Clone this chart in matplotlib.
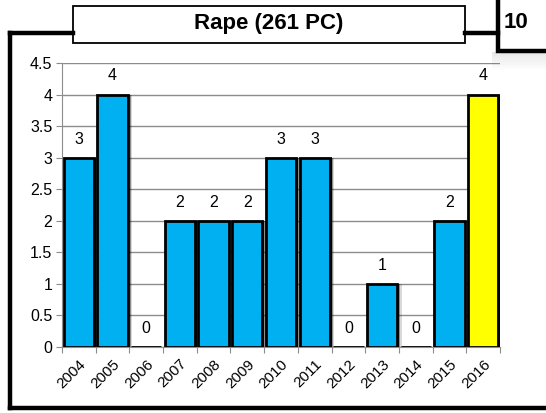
import matplotlib.pyplot as plt
from matplotlib.patches import Rectangle
from matplotlib.lines import Line2D

plt.rcParams['font.family'] = ['Liberation Sans', 'DejaVu Sans']

# Data
years = ["2004", "2005", "2006", "2007", "2008", "2009", "2010",
         "2011", "2012", "2013", "2014", "2015", "2016"]
cases = [3, 4, 0, 2, 2, 2, 3, 3, 0, 1, 0, 2, 4]
bar_colors = ["#00B0F0"] * 12 + ["#FFFF00"]

fig = plt.figure(figsize=(5.46, 4.13), dpi=100)
W, H = 546, 413


def fx(px):
    return px / W


def fy(py):
    return 1 - py / H


# outer frame (right edge lies outside the picture)
frame = [((10, 33), (10, 408)), ((10, 408), (560, 408)),
         ((10, 33), (73, 33)), ((465, 33), (498, 33))]
for (x0, y0), (x1, y1) in frame:
    fig.add_artist(Line2D([fx(x0), fx(x1)], [fy(y0), fy(y1)],
                          color="black", lw=3.2, solid_capstyle="projecting"))

# shadow under top-right box
for i in range(8):
    fig.add_artist(Rectangle((fx(492), fy(54 + i * 2.2)), fx(70), 2.2 / H,
                             facecolor="black", alpha=0.09 * (1 - i / 8),
                             edgecolor="none"))

# top-right box (clipped)
fig.add_artist(Rectangle((fx(498), fy(51)), fx(70), 60 / H,
                         facecolor="white", edgecolor="black", lw=3.2))
fig.text(fx(504), fy(22), "10", fontsize=16, fontweight="bold",
         ha="left", va="center")

# title box
fig.add_artist(Rectangle((fx(73), fy(43)), fx(392), 37 / H,
                         facecolor="white", edgecolor="black", lw=1.3))
fig.text(fx(269), fy(24), "Rape (261 PC)", fontsize=16, fontweight="bold",
         ha="center", va="center")

ax = fig.add_axes([fx(62), fy(347), fx(438), (347 - 63) / H])
x = range(len(years))

# soft shadow to the right of the bars
for k, (dx, a) in enumerate([(0.05, 0.8), (0.09, 0.35), (0.13, 0.15)]):
    ax.bar([i + dx for i in x], cases, width=0.9, color="black",
           alpha=a, zorder=2, linewidth=0)
bars = ax.bar(x, cases, width=0.9, color=bar_colors, edgecolor="black",
              linewidth=2, zorder=3)
ax.bar_label(bars, labels=[str(v) for v in cases], padding=8, fontsize=11.5)

ax.set_ylim(0, 4.5)
ax.set_xlim(-0.5, len(years) - 0.5)
ax.set_yticks([i * 0.5 for i in range(10)])
ax.set_yticklabels(["0", "0.5", "1", "1.5", "2", "2.5", "3", "3.5", "4", "4.5"])
ax.set_xticks([i - 0.5 for i in range(len(years) + 1)], minor=False)
ax.set_xticklabels([""] * (len(years) + 1))
ax.set_xticks(list(x), minor=True)
ax.set_xticklabels(years, minor=True, rotation=45, ha="right",
                   rotation_mode="anchor")
ax.tick_params(axis="x", which="minor", length=0, labelsize=11, pad=7)
ax.tick_params(axis="x", which="major", length=4, color="#8c8c8c",
               direction="out")
ax.tick_params(axis="y", length=4, color="#8c8c8c", labelsize=11.5, pad=3)

ax.grid(axis="y", color="#8c8c8c", lw=1, zorder=0)
ax.set_axisbelow(True)
for s in ["top", "right"]:
    ax.spines[s].set_visible(False)
ax.spines["left"].set_color("#8c8c8c")
ax.spines["bottom"].set_color("#8c8c8c")
ax.patch.set_alpha(0)

fig.savefig("out.png", dpi=100)
